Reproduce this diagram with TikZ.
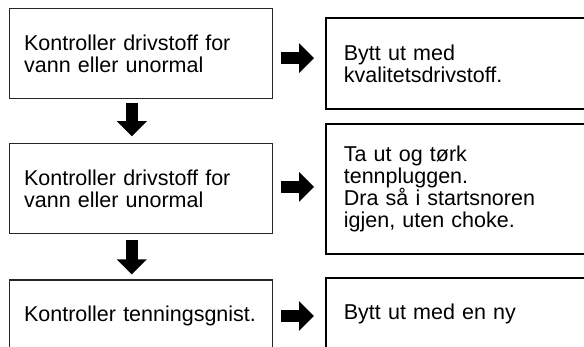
\documentclass[tikz,border=0pt]{standalone}
\usepackage{fontspec}
\setmainfont{Liberation Sans}
\usepackage{tikz}
\usetikzlibrary{arrows.meta, positioning, calc}

\begin{document}
\begin{tikzpicture}[
            x=1pt, y=-1pt, % pixel units, y going down
            font=\fontsize{21.5}{22}\selectfont,
            checkbox/.style={
                draw=black!85,
                line width=1.2pt,
                anchor=north west,
                minimum width=263.5pt,
                text width=233.5pt,
                inner xsep=15pt,
                align=left
            },
            fixbox/.style={
                draw=black,
                line width=1.7pt,
                anchor=north west,
                minimum width=290pt,
                text width=254pt,
                inner xsep=18pt,
                align=left
            },
            blockarrow/.style={
                line width=12pt,
                -{Triangle[length=15pt, width=29pt]} % fat block arrow
            }
        ]
        \path[use as bounding box] (0,0) rectangle (584,346);
        \clip (0,0) rectangle (584,346);

        % left column: checks
        \node[checkbox, minimum height=90pt] (l1) at (8.5,8) {Kontroller drivstoff for\\vann eller unormal};
        \node[checkbox, minimum height=90pt, below=44pt of l1.south west, anchor=north west] (l2) {Kontroller drivstoff for\\vann eller unormal};
        \node[checkbox, minimum height=72pt, below=45pt of l2.south west, anchor=north west] (l3) {Kontroller tenningsgnist.};

        % right column: remedies
        \node[fixbox, minimum height=91pt] (r1) at (325,17) {Bytt ut med\\kvalitetsdrivstoff.};
        \node[fixbox, minimum height=130pt] (r2) at (325,123) {Ta ut og tørk\\tennpluggen.\\Dra så i startsnoren\\igjen, uten choke.};
        \node[fixbox, minimum height=72pt] (r3) at (325,277) {Bytt ut med en ny};

        % down arrows
        \draw[blockarrow, shorten <=4pt, shorten >=7pt]
            ($(l1.south)+(-9,0)$) -- ($(l1.south -| l2.north)+(-9,44)$);
        \draw[blockarrow, shorten <=6pt, shorten >=5pt]
            ($(l2.south)+(-9,0)$) -- ($(l2.south)+(-9,45)$);

        % right arrows
        \draw[blockarrow, shorten <=8pt, shorten >=11pt]
            ($(l1.east)+(0,4.5)$) -- ($(l1.east -| r1.west)+(0,4.5)$);
        \draw[blockarrow, shorten <=8pt, shorten >=11pt]
            ($(l2.east)+(0,-2)$) -- ($(l2.east -| r2.west)+(0,-2)$);
        \draw[blockarrow, shorten <=8pt, shorten >=11pt]
            (l3.east) -- (l3.east -| r3.west);
    \end{tikzpicture}
\end{document}
